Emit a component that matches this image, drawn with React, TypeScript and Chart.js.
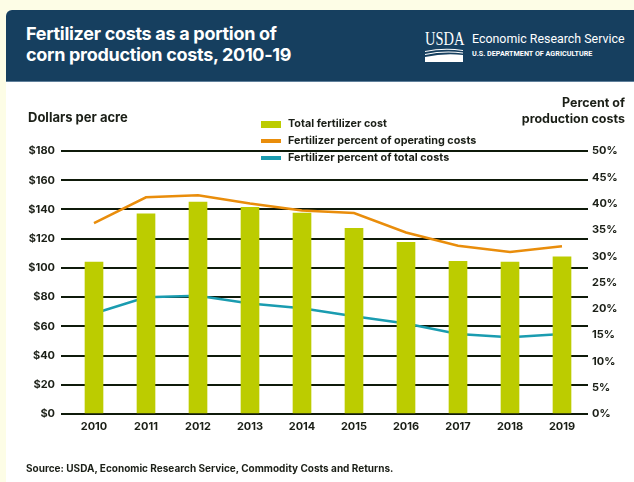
import React, { useEffect, useRef } from "react";
import { Chart, registerables } from "chart.js";

Chart.register(...registerables);

const years = ["2010", "2011", "2012", "2013", "2014", "2015", "2016", "2017", "2018", "2019"];
const totalFertilizerCost = [104, 137, 145, 141.5, 137.5, 127, 117.5, 104.5, 104, 107.5];
const pctOfOperating = [36.3, 41.2, 41.6, 40.0, 38.7, 38.2, 34.5, 32.0, 30.8, 31.9];
const pctOfTotal = [19.1, 22.2, 22.5, 21.0, 20.1, 18.6, 17.2, 15.2, 14.6, 15.2];
const seriesLabels = [
  "Total fertilizer cost",
  "Fertilizer percent of operating costs",
  "Fertilizer percent of total costs",
];
const seriesColors = ["#bccc00", "#e98d0b", "#1a9cb0"];

const W = 634;
const H = 482;
const FONT = "Inter, 'Liberation Sans', sans-serif";
const INK = "#1b1f17";

export default function App() {
  const ref = useRef<HTMLCanvasElement | null>(null);

  useEffect(() => {
    if (!ref.current) return;
    const tickFont = { family: FONT, size: 11, weight: "bold" as const };
    const chart = new Chart(ref.current, {
      type: "bar",
      data: {
        labels: years,
        datasets: [
          {
            type: "bar",
            label: seriesLabels[0],
            data: totalFertilizerCost,
            backgroundColor: seriesColors[0],
            barThickness: 18,
            yAxisID: "y",
            order: 0,
          },
          {
            type: "line",
            label: seriesLabels[1],
            data: pctOfOperating,
            borderColor: seriesColors[1],
            borderWidth: 2.5,
            pointRadius: 0,
            tension: 0,
            yAxisID: "y1",
            order: 1,
          },
          {
            type: "line",
            label: seriesLabels[2],
            data: pctOfTotal,
            borderColor: seriesColors[2],
            borderWidth: 2.5,
            pointRadius: 0,
            tension: 0,
            yAxisID: "y1",
            order: 2,
          },
        ] as any,
      },
      options: {
        animation: false,
        responsive: false,
        devicePixelRatio: 1,
        layout: { padding: { top: 151, left: 0, right: 0, bottom: 0 } },
        plugins: { legend: { display: false }, tooltip: { enabled: false } },
        scales: {
          x: {
            grid: { display: false, drawTicks: false },
            border: { display: false },
            ticks: { font: tickFont, color: INK, padding: 6, maxRotation: 0 },
            afterFit: (s: any) => {
              s.height = H - 414;
            },
          },
          y: {
            position: "left",
            min: 0,
            max: 180,
            ticks: {
              stepSize: 20,
              font: tickFont,
              color: INK,
              padding: 6,
              callback: (v: any) => "$" + v,
            },
            grid: { color: "#0f1a0a", lineWidth: 2, tickLength: 7, drawTicks: true },
            border: { display: false },
            afterFit: (s: any) => {
              s.width = 68;
            },
          },
          y1: {
            position: "right",
            min: 0,
            max: 50,
            ticks: {
              stepSize: 5,
              font: tickFont,
              color: INK,
              padding: 4,
              callback: (v: any) => v + "%",
            },
            grid: { display: false, drawTicks: false },
            border: { display: false },
            afterFit: (s: any) => {
              s.width = W - 588;
            },
          },
        },
      } as any,
    });
    return () => chart.destroy();
  }, []);

  const txt = (
    content: React.ReactNode,
    left: number,
    cy: number,
    size: number,
    extra: React.CSSProperties = {}
  ) => (
    <div
      style={{
        position: "absolute",
        left,
        top: cy - 8,
        lineHeight: "16px",
        fontSize: size,
        fontWeight: 700,
        color: INK,
        whiteSpace: "nowrap",
        ...extra,
      }}
    >
      {content}
    </div>
  );

  return (
    <div
      style={{
        position: "absolute",
        left: 0,
        top: 0,
        width: W,
        height: H,
        overflow: "hidden",
        background: "#fdfde6",
        fontFamily: FONT,
      }}
    >
      <div
        style={{
          position: "absolute",
          left: 6,
          top: 10,
          width: 700,
          height: 520,
          background: "#ffffff",
          borderTopLeftRadius: 6,
          overflow: "hidden",
        }}
      >
        <div
          style={{
            position: "absolute",
            left: 0,
            top: 0,
            width: 700,
            height: 72,
            background: "#163f5f",
            borderBottom: "1px solid #5f7f9a",
            boxSizing: "border-box",
          }}
        >
          <div
            style={{
              position: "absolute",
              left: 20,
              top: 13,
              color: "#ffffff",
              fontSize: 18,
              fontWeight: 700,
              lineHeight: "21px",
              letterSpacing: -0.3,
              whiteSpace: "nowrap",
            }}
          >
            Fertilizer costs as a portion of
            <br />
            corn production costs, 2010-19
          </div>
          <div
            style={{
              position: "absolute",
              left: 419,
              top: 19,
              color: "#ffffff",
              fontFamily: "'Liberation Serif', 'DejaVu Serif', serif",
              fontSize: 19,
              lineHeight: "19px",
              transform: "scaleX(0.76)",
              transformOrigin: "left top",
              whiteSpace: "nowrap",
            }}
          >
            USDA
          </div>
          <svg
            style={{ position: "absolute", left: 419, top: 38 }}
            width={38}
            height={14}
            viewBox="0 0 40 14"
            preserveAspectRatio="none"
          >
            <path d="M0 3 Q20 -1 40 2 L40 3 Q20 0 0 4 Z" fill="#fff" />
            <path d="M0 6 Q20 2 40 4.5 L40 5.5 Q20 3 0 7 Z" fill="#fff" />
            <path d="M0 9 Q20 5 40 7 L40 14 L0 14 Z" fill="#fff" />
          </svg>
          <div
            style={{
              position: "absolute",
              left: 466,
              top: 20,
              color: "#ffffff",
              fontFamily: "Roboto, 'Liberation Sans', sans-serif",
              fontSize: 12.4,
              lineHeight: "18px",
              whiteSpace: "nowrap",
            }}
          >
            Economic Research Service
          </div>
          <div
            style={{
              position: "absolute",
              left: 466,
              top: 39,
              color: "#ffffff",
              fontFamily: "Roboto, 'Liberation Sans', sans-serif",
              fontSize: 7.2,
              fontWeight: 700,
              lineHeight: "10px",
              whiteSpace: "nowrap",
            }}
          >
            U.S. DEPARTMENT OF AGRICULTURE
          </div>
        </div>
      </div>

      <canvas
        ref={ref}
        width={W}
        height={H}
        style={{ position: "absolute", left: 0, top: 0, width: W, height: H }}
      />

      {txt("Dollars per acre", 28, 117, 13)}
      <div
        style={{
          position: "absolute",
          right: W - 625,
          top: 95,
          lineHeight: "16px",
          fontSize: 12.5,
          fontWeight: 700,
          color: INK,
          textAlign: "right",
          whiteSpace: "nowrap",
        }}
      >
        Percent of
        <br />
        production costs
      </div>

      {seriesLabels.map((lab, i) => {
        const cy = 124 + i * 17;
        const boxH = i === 0 ? 7 : 4;
        return (
          <React.Fragment key={lab}>
            <div
              style={{
                position: "absolute",
                left: 261,
                top: cy - boxH / 2,
                width: 20,
                height: boxH,
                background: seriesColors[i],
              }}
            />
            {txt(lab, 288, cy, 10.8)}
          </React.Fragment>
        );
      })}

      {txt("Source: USDA, Economic Research Service, Commodity Costs and Returns.", 26, 468, 10)}
    </div>
  );
}
